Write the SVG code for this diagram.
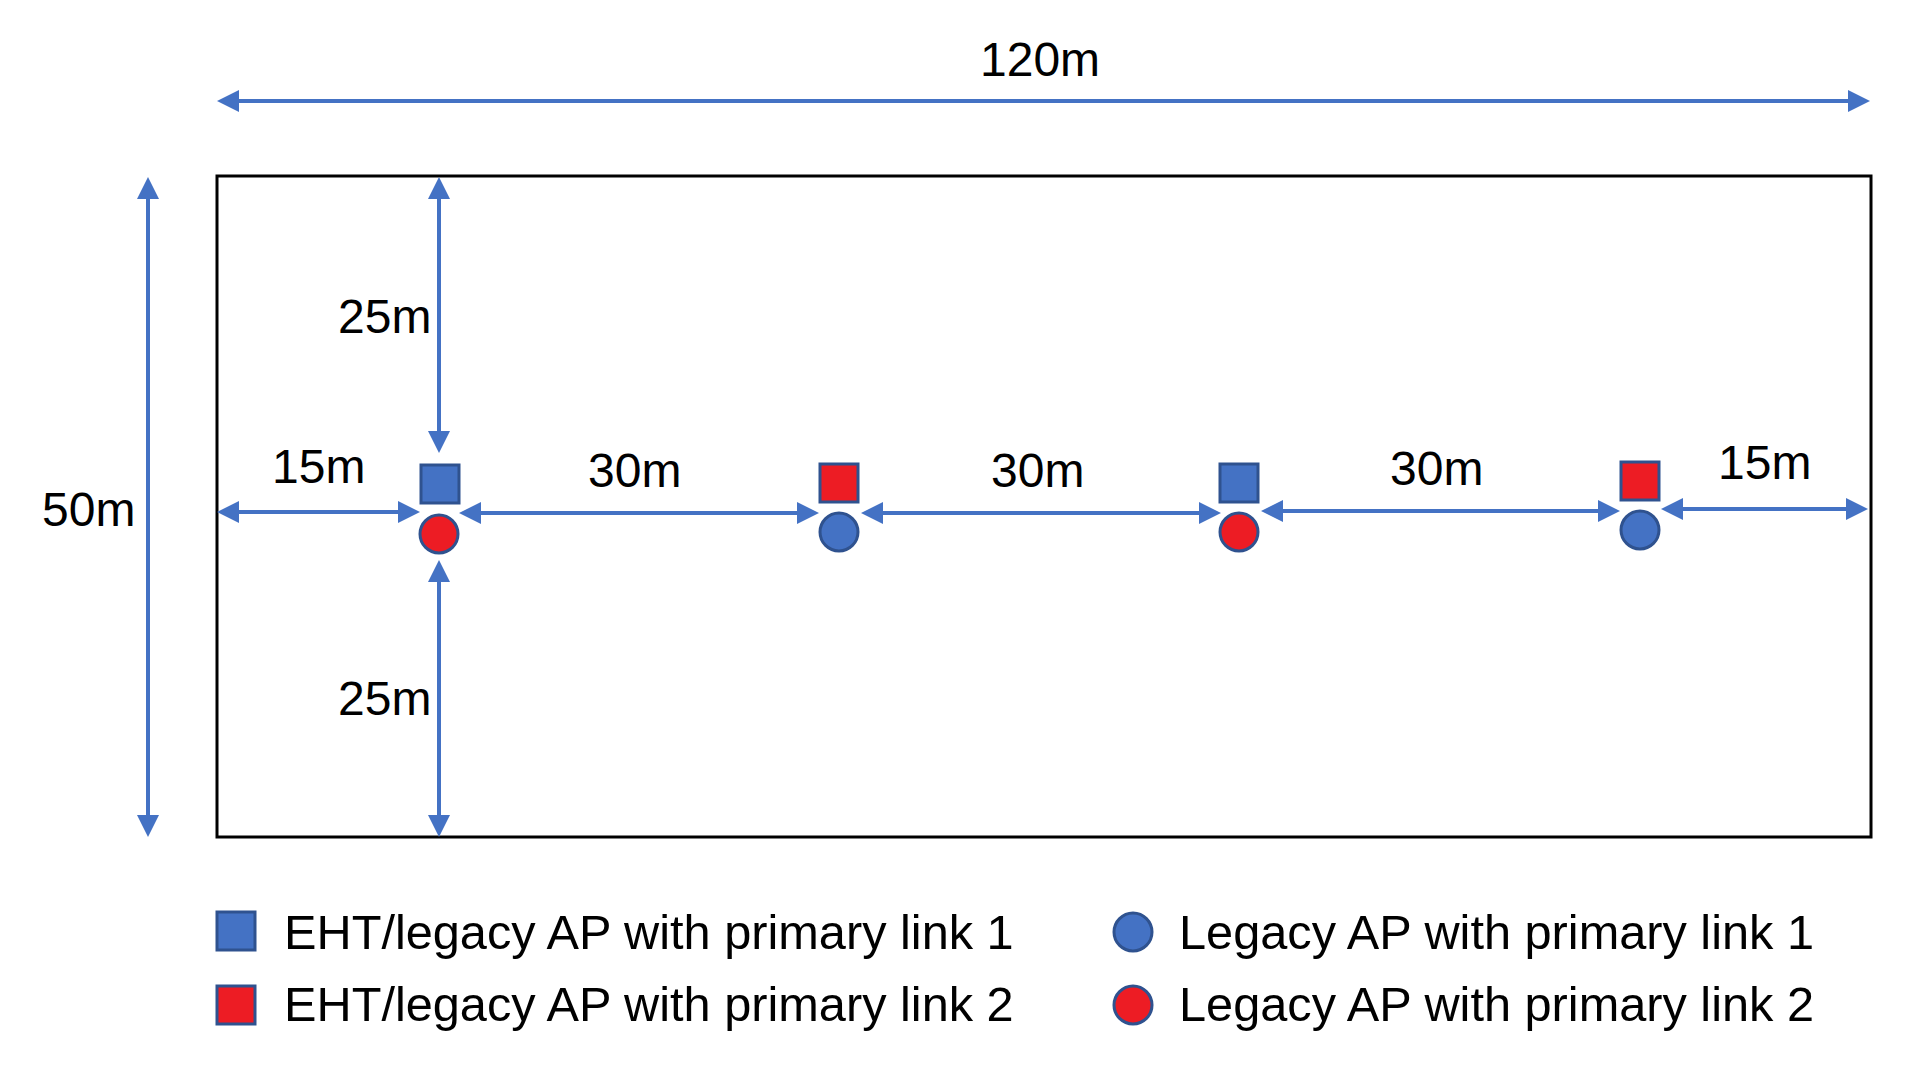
<svg xmlns="http://www.w3.org/2000/svg" width="1920" height="1072" viewBox="0 0 1920 1072">
<style>
text{font-family:"Liberation Sans",Arial,sans-serif;font-size:48px;fill:#000}
.lg{font-size:48.7px}
.dim{stroke:#4472C4;stroke-width:4;fill:none;marker-start:url(#ah);marker-end:url(#ah)}
.sq1{fill:#4472C4;stroke:#2F528F;stroke-width:3}
.sq2{fill:#ED1C24;stroke:#2F528F;stroke-width:3}
.c1{fill:#4472C4;stroke:#2F528F;stroke-width:3}
.c2{fill:#ED1C24;stroke:#2F528F;stroke-width:3}
</style>
<defs>
<marker id="ah" markerUnits="userSpaceOnUse" markerWidth="22" markerHeight="22" refX="14" refY="11" orient="auto-start-reverse" viewBox="0 0 22 22">
<path d="M0,0 L22,11 L0,22 z" fill="#4472C4"/>
</marker>
</defs>
<rect id="area" x="217" y="176" width="1654" height="661" fill="#fff" stroke="#000" stroke-width="3"/>
<g id="connectors">
<line class="dim" x1="225" y1="101" x2="1862" y2="101"/>
<line class="dim" x1="148" y1="185" x2="148" y2="829"/>
<line class="dim" x1="439" y1="185" x2="439" y2="445"/>
<line class="dim" x1="439" y1="568" x2="439" y2="829"/>
<line class="dim" x1="225" y1="512" x2="412" y2="512"/>
<line class="dim" x1="467" y1="513" x2="811" y2="513"/>
<line class="dim" x1="869" y1="513" x2="1213" y2="513"/>
<line class="dim" x1="1269" y1="511" x2="1612" y2="511"/>
<line class="dim" x1="1669" y1="509" x2="1860" y2="509"/>
</g>
<g id="labels">
<text x="980" y="76">120m</text>
<text x="42" y="526">50m</text>
<text x="338" y="333">25m</text>
<text x="338" y="715">25m</text>
<text x="272" y="483">15m</text>
<text x="588" y="487">30m</text>
<text x="991" y="487">30m</text>
<text x="1390" y="485">30m</text>
<text x="1718" y="479">15m</text>
</g>
<g id="node1"><rect class="sq1" x="421" y="465" width="38" height="38"/><circle class="c2" cx="439" cy="534" r="19"/></g>
<g id="node2"><rect class="sq2" x="820" y="464" width="38" height="38"/><circle class="c1" cx="839" cy="532" r="19"/></g>
<g id="node3"><rect class="sq1" x="1220" y="464" width="38" height="38"/><circle class="c2" cx="1239" cy="532" r="19"/></g>
<g id="node4"><rect class="sq2" x="1621" y="462" width="38" height="38"/><circle class="c1" cx="1640" cy="530" r="19"/></g>
<g id="legend">
<rect class="sq1" x="217" y="912" width="38" height="38"/>
<text class="lg" x="284" y="949">EHT/legacy AP with primary link 1</text>
<rect class="sq2" x="217" y="986" width="38" height="38"/>
<text class="lg" x="284" y="1021">EHT/legacy AP with primary link 2</text>
<circle class="c1" cx="1133" cy="932" r="19"/>
<text class="lg" x="1179" y="949">Legacy AP with primary link 1</text>
<circle class="c2" cx="1133" cy="1005" r="19"/>
<text class="lg" x="1179" y="1021">Legacy AP with primary link 2</text>
</g>
</svg>
